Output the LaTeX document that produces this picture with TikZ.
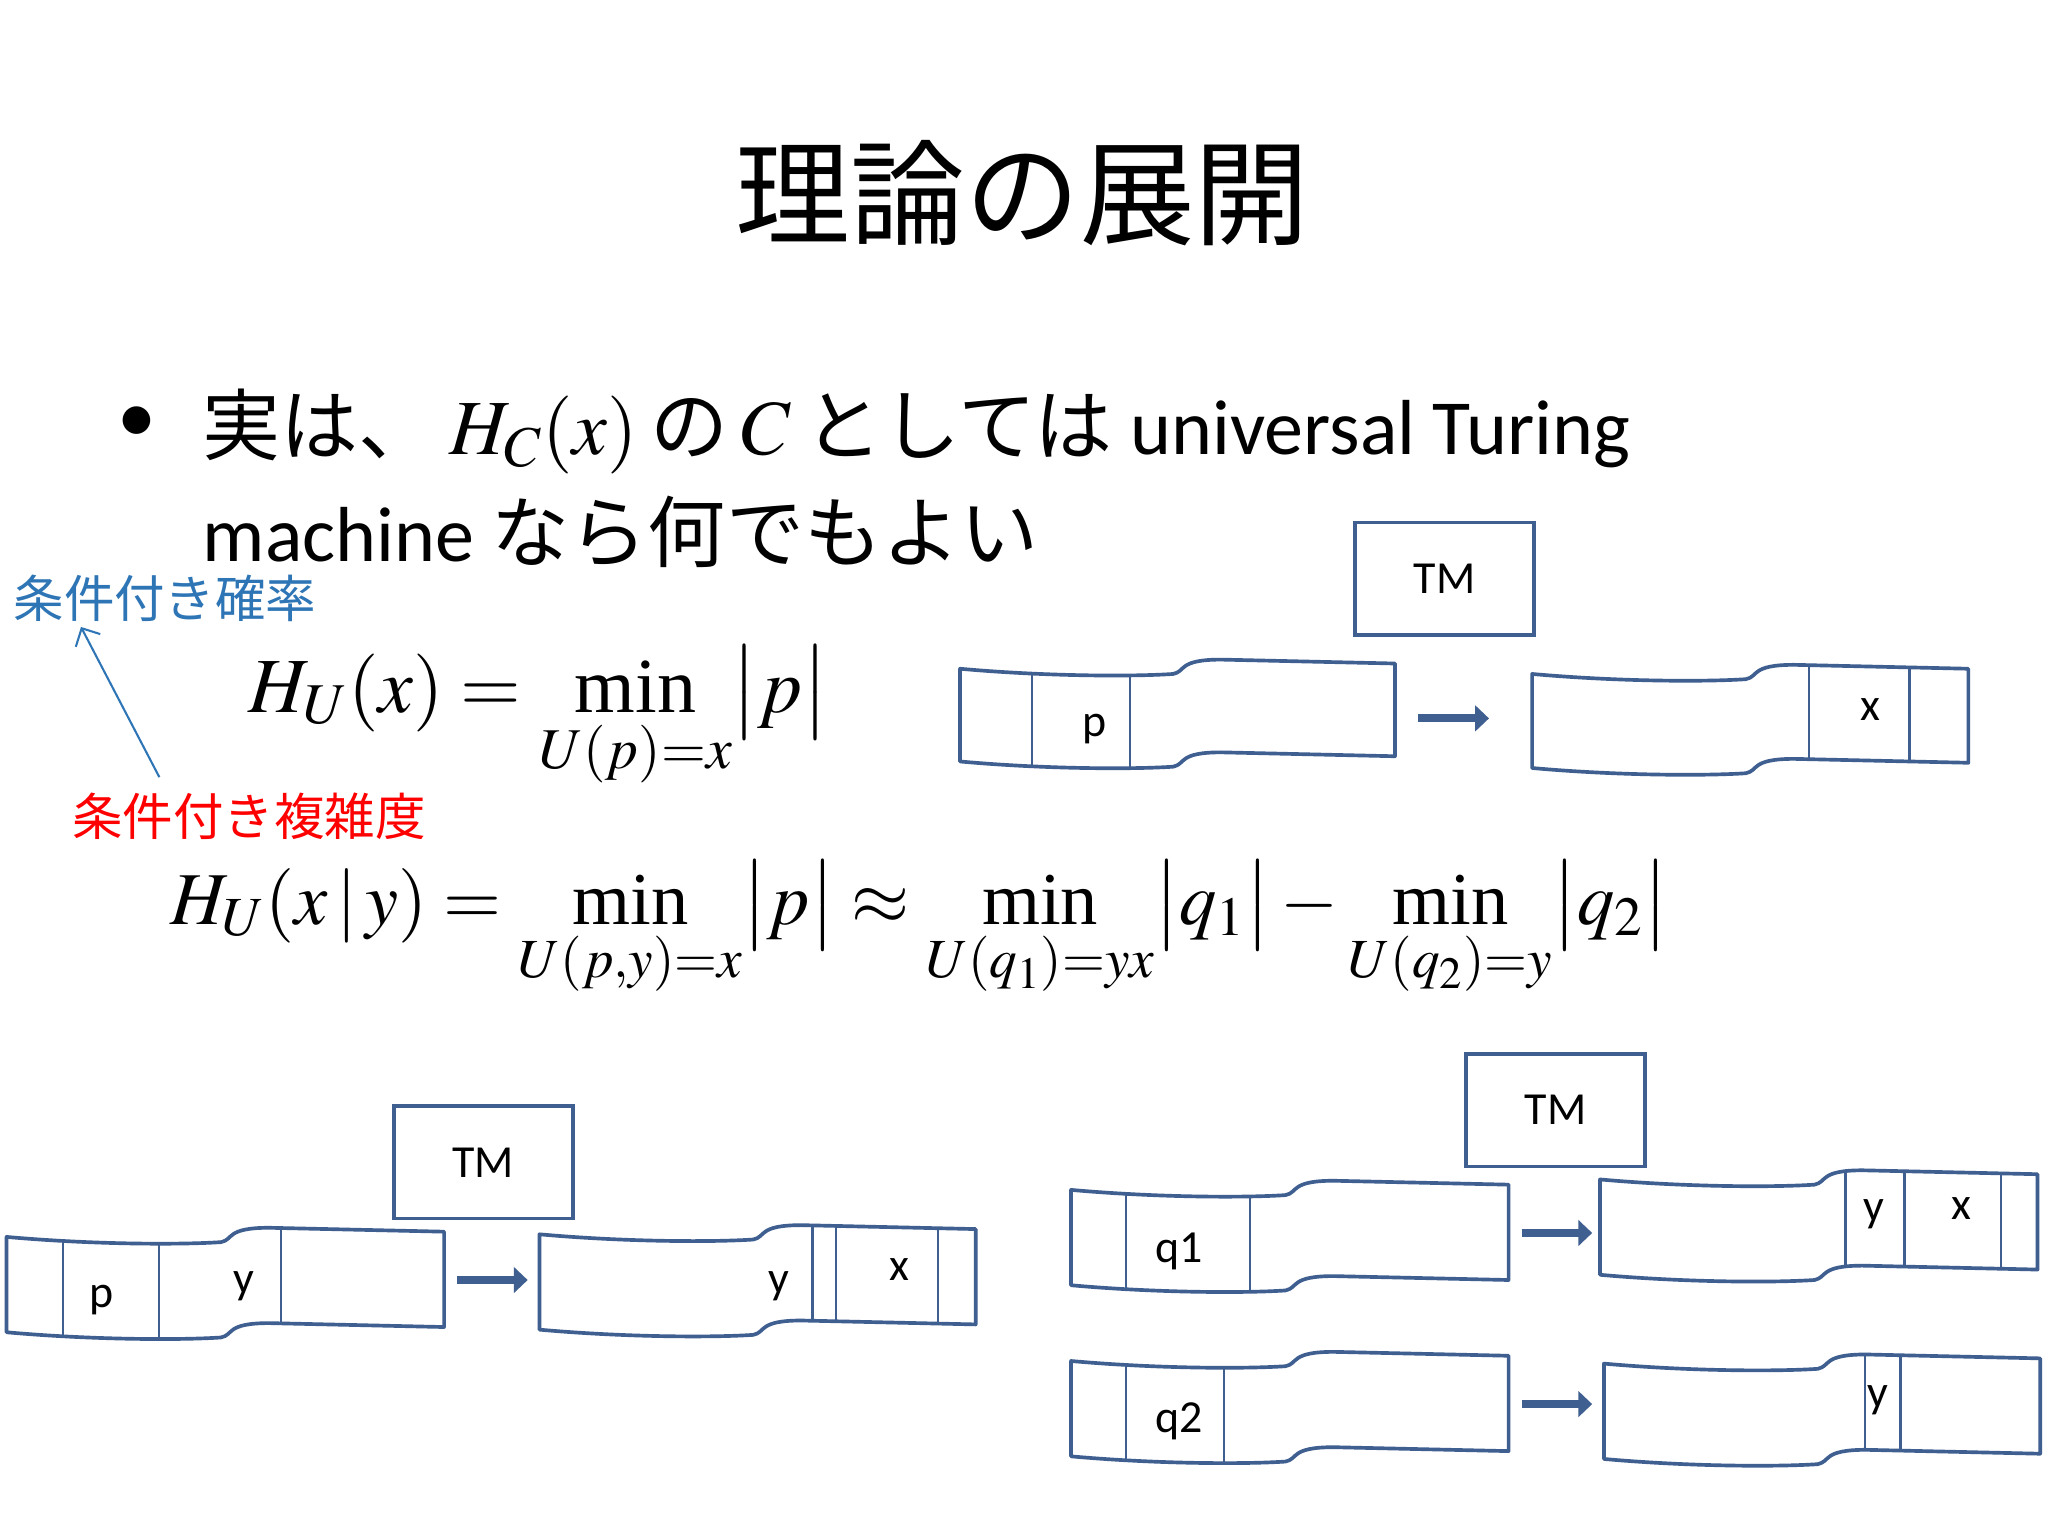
\documentclass[tikz,border=0pt]{standalone}
\usepackage{mathptmx}
\usepackage{amsmath}
\usepackage[no-math]{fontspec}
\setmainfont{Carlito}
\newfontfamily\jp{Noto Sans CJK JP}
\newfontfamily\tms{Liberation Serif}
\newcommand{\mymin}{\mathop{\text{\tms min}}\limits}
\definecolor{tapec}{HTML}{3E5F8F}
\definecolor{jblue}{HTML}{2E75B6}
\usetikzlibrary{arrows.meta}
\tikzset{
  tapeline/.style={draw=tapec,line width=1.6pt},
  tmbox/.style={draw=tapec,line width=1.6pt,minimum width=137*0.02cm,minimum height=86*0.02cm,font=\fontsize{20}{22}\selectfont},
  celltxt/.style={font=\fontsize{20}{22}\selectfont},
  bigarrow/.style={draw=tapec,line width=3.5pt,-{Triangle[length=6pt,width=11pt]}},
}
\newcommand{\tapepath}[4]{%
  (#1,#2) .. controls ({#1+0.2*#3},{#2+6}) and ({#1+0.4*#3},{#2+6}) .. ({#1+0.49*#3},{#2+4})
  .. controls ({#1+0.52*#3},{#2+2}) and ({#1+0.5*#3},{#2-7}) .. ({#1+0.6*#3},{#2-7})
  -- ({#1+#3},{#2-4}) -- ({#1+#3},{#2-4+#4})
  -- ({#1+0.6*#3},{#2-7+#4})
  .. controls ({#1+0.5*#3},{#2-7+#4}) and ({#1+0.52*#3},{#2+2+#4}) .. ({#1+0.49*#3},{#2+4+#4})
  .. controls ({#1+0.4*#3},{#2+6+#4}) and ({#1+0.2*#3},{#2+6+#4}) .. ({#1},{#2+#4}) -- cycle}
\newcommand{\mytape}[5]{%
  \begin{scope}
    \clip \tapepath{#1}{#2}{#3}{#4};
    \foreach \cx in {#5} { \draw[tapec,line width=1pt] (\cx,{#2-20}) -- (\cx,{#2+#4+20}); }
  \end{scope}
  \draw[tapeline,line join=round] \tapepath{#1}{#2}{#3}{#4};}
\begin{document}
\begin{tikzpicture}[x=0.02cm,y=-0.02cm]
\useasboundingbox (0,0) rectangle (1568,1176);
\fill[white] (0,0) rectangle (1568,1176);
\node[font=\jp\fontsize{50}{56}\selectfont] (title) at (783,148) {理論の展開};
\node[font=\fontsize{34}{40}\selectfont] (bul) at (105,325) {•};
\node[anchor=base west,font=\fontsize{34}{40}\selectfont,inner sep=0] (l1) at (155,348)
  {{\jp 実は、}\,$H_C(x)$\,{\jp の}\,$C$\,{\jp としては} universal Turing};
\node[anchor=base west,font=\fontsize{34}{40}\selectfont,inner sep=0] (l2) at (155,430)
  {machine {\jp なら何でもよい}};
\node[anchor=west,inner sep=0,text=jblue,font=\jp\fontsize{22}{26}\selectfont] (lb) at (10,458) {条件付き確率};
\node[anchor=west,inner sep=0,text=red,font=\jp\fontsize{22}{26}\selectfont] (lr) at (55,625) {条件付き複雑度};
\coordinate (as) at (122,595);
\coordinate (ae) at (62,480);
\draw[jblue,line width=0.9pt,-{Straight Barb[length=6pt]}] (as) -- (ae);
\node[anchor=west,inner sep=0,font=\fontsize{34}{40}\selectfont] (eq1) at (190,550)
  {$H_U(x)=\mymin_{U(p)=x}\bigl|p\bigr|$};
\node[anchor=west,inner sep=0,font=\fontsize{32.5}{38}\selectfont] (eq2) at (130,712)
  {$H_U(x\,|\,y)=\mymin_{U(p,y)=x}\bigl|p\bigr|\approx\mymin_{U(q_1)=yx}\bigl|q_1\bigr|-\mymin_{U(q_2)=y}\bigl|q_2\bigr|$};
\node[tmbox] (tm1) at (1106,443) {TM};
\mytape{735}{512}{333}{71}{790,865}
\node[celltxt] (c1) at (838,558) {p};
\coordinate (a1s) at (1086,550); \coordinate (a1e) at (1140,550);
\draw[bigarrow] (a1s) -- (a1e);
\mytape{1173}{516}{334}{72}{1385,1462}
\node[celltxt] (c2) at (1432,543) {x};
\node[tmbox] (tm2) at (370,890) {TM};
\mytape{5}{947}{335}{73}{48,122,215}
\node[celltxt] (c3) at (78,995) {p};
\node[celltxt] (c4) at (187,985) {y};
\coordinate (a2s) at (350,980); \coordinate (a2e) at (404,980);
\draw[bigarrow] (a2s) -- (a2e);
\mytape{413}{945}{334}{73}{622,640,718}
\node[celltxt] (c5) at (596,985) {y};
\node[celltxt] (c6) at (689,972) {x};
\node[tmbox] (tm3) at (1191,850) {TM};
\mytape{820}{911}{335}{73}{862,957}
\node[celltxt] (c7) at (903,958) {q1};
\coordinate (a3s) at (1165,944); \coordinate (a3e) at (1219,944);
\draw[bigarrow] (a3s) -- (a3e);
\mytape{1225}{903}{335}{73}{1413,1458,1532}
\node[celltxt] (c8) at (1435,930) {y};
\node[celltxt] (c9) at (1502,925) {x};
\mytape{820}{1042}{335}{73}{862,937}
\node[celltxt] (c10) at (903,1088) {q2};
\coordinate (a4s) at (1165,1075); \coordinate (a4e) at (1219,1075);
\draw[bigarrow] (a4s) -- (a4e);
\mytape{1228}{1044}{334}{73}{1428,1455}
\node[celltxt] (c11) at (1438,1072) {y};
\end{tikzpicture}
\end{document}
